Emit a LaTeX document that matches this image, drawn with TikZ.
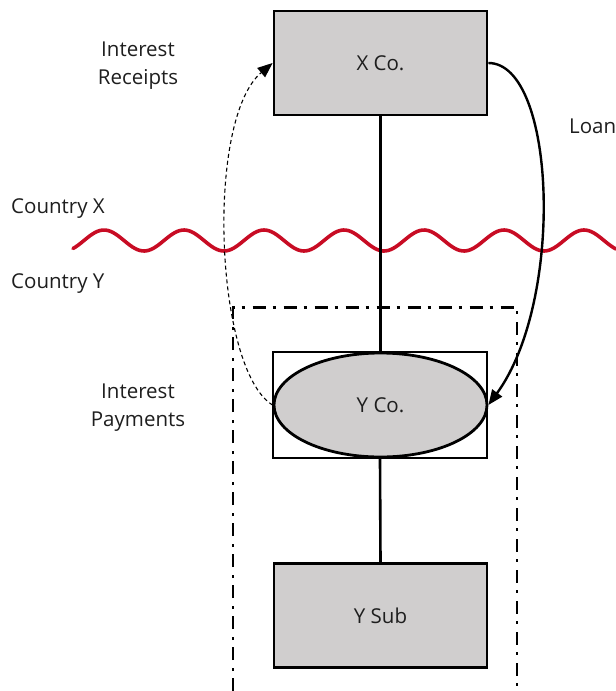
\documentclass[tikz,border=0pt]{standalone}
\usepackage{fontspec}
\setmainfont{Open Sans}
\usetikzlibrary{shapes.geometric,arrows.meta}
\definecolor{boxgray}{RGB}{208,206,206}
\definecolor{wavered}{RGB}{200,12,36}
\definecolor{txt}{RGB}{30,30,30}
\begin{document}
\begin{tikzpicture}[x=1pt,y=-1pt,
  entity/.style={draw=black,line width=2.8pt,fill=boxgray,minimum width=213pt,
    minimum height=104pt,inner sep=0pt,font=\fontsize{20.5}{24}\selectfont,text=txt},
  holder/.style={draw=black,line width=2.2pt,fill=white,minimum width=214pt,
    minimum height=106pt,inner sep=0pt},
  oval/.style={ellipse,draw=black,line width=2.8pt,fill=boxgray,minimum width=213pt,
    minimum height=104pt,inner sep=0pt,font=\fontsize{20.5}{24}\selectfont,text=txt},
  label/.style={font=\fontsize{20.5}{28}\selectfont,text=txt,align=center,inner sep=0pt},
  link/.style={line width=2.6pt},
  border/.style={line width=2.6pt,dash pattern=on 13pt off 7pt on 3pt off 8pt},
  loanflow/.style={line width=2.4pt,-{Triangle[length=15pt,width=12pt]}},
  interestflow/.style={line width=1.1pt,dash pattern=on 4pt off 3pt,
    -{Triangle[length=15pt,width=12pt]}}]
\useasboundingbox (0,0) rectangle (616,691);

% border between the two countries (wavelength 80)
\draw[wavered,line width=3.6pt,line cap=round]
  plot[domain=73:616,samples=220,smooth] (\x,{240.5+10.5*cos(4.5*(\x-64))});

% Country Y group boundary (open at the bottom)
\draw[border] (233,691) -- (233,307.5) -- (517,307.5) -- (517,691);

% entities
\node[entity] (xco) at (380.5,63) {X Co.};
\node[holder] (yrect) at (380,405) {};
\node[oval] (yco) at (380.5,405) {Y Co.};
\node[entity] (ysub) at (380.5,615.5) {Y Sub};

% ownership links
\draw[link] (xco.south) -- (yco.north);
\draw[link] (yrect.south) -- (ysub.north);

% loan and interest flows
\draw[loanflow] (xco.east) .. controls (556,63) and (565,300) .. (yco.east);
\draw[interestflow] (yco.west) .. controls (215,370) and (205,120) .. (xco.west);

% labels
\node[label] (receipts) at (138,66) {Interest\\Receipts};
\node[label,anchor=west] (loan) at (569,126) {Loan};
\node[label,anchor=west] (ctryx) at (11,209) {Country X};
\node[label,anchor=west] (ctryy) at (11,284) {Country Y};
\node[label] (payments) at (138,408) {Interest\\Payments};
\end{tikzpicture}
\end{document}
